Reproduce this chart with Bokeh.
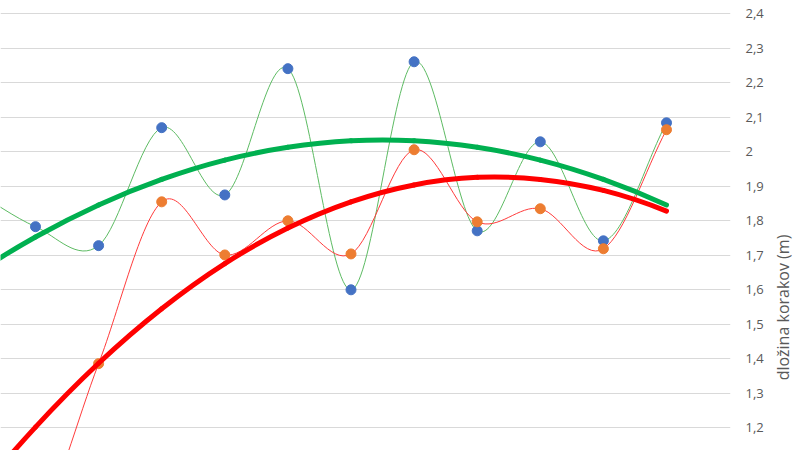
import numpy as np
from bokeh.plotting import figure
from bokeh.layouts import row
from bokeh.models import FixedTicker, CustomJSTickFormatter, Range1d, Label
from bokeh.embed import file_html
from bokeh.resources import INLINE

# measurement index (first points lie partly outside the visible window)
x_idx = [0, 1, 2, 3, 4, 5, 6, 7, 8, 9, 10, 11]
blue_vals = [1.89, 1.783, 1.728, 2.070, 1.875, 2.241, 1.600, 2.261, 1.771, 2.029, 1.742, 2.084]
orange_vals = [0.80, 0.90, 1.386, 1.855, 1.701, 1.800, 1.704, 2.006, 1.797, 1.835, 1.719, 2.064]
# polynomial trend lines, read at each measurement index
green_trend = [1.641, 1.753, 1.846, 1.920, 1.976, 2.013, 2.032, 2.032, 2.013, 1.976, 1.920, 1.846]
red_trend = [0.990, 1.202, 1.387, 1.545, 1.676, 1.779, 1.855, 1.904, 1.926, 1.920, 1.888, 1.828]
y_ticks = [1.2, 1.3, 1.4, 1.5, 1.6, 1.7, 1.8, 1.9, 2.0, 2.1, 2.2, 2.3, 2.4]
y_title = "dložina korakov (m)"


def bezier_segments(xs, ys, end="linear"):
    xs = np.asarray(xs, float)
    ys = np.asarray(ys, float)
    n = len(xs)
    m = np.empty(n)
    m[1:-1] = (ys[2:] - ys[:-2]) / (xs[2:] - xs[:-2])
    if end == "quad":
        m[0] = (-3 * ys[0] + 4 * ys[1] - ys[2]) / 2
        m[-1] = (3 * ys[-1] - 4 * ys[-2] + ys[-3]) / 2
    else:
        m[0] = ys[1] - ys[0]
        m[-1] = ys[-1] - ys[-2]
    dx = xs[1:] - xs[:-1]
    return dict(x0=xs[:-1], y0=ys[:-1], x1=xs[1:], y1=ys[1:],
                cx0=xs[:-1] + dx / 3, cy0=ys[:-1] + m[:-1] * dx / 3,
                cx1=xs[1:] - dx / 3, cy1=ys[1:] - m[1:] * dx / 3)


p = figure(width=768, height=450, output_backend="svg", toolbar_location=None,
           x_range=Range1d(0.4453, 12.0143), y_range=Range1d(1.1342, 2.4386),
           x_axis_location=None, y_axis_location="right",
           min_border_left=0, min_border_top=0, min_border_bottom=0, min_border_right=38)
p.outline_line_color = None
p.background_fill_color = "white"
p.border_fill_color = "white"

ticker = FixedTicker(ticks=y_ticks)
p.yaxis.ticker = ticker
p.ygrid.ticker = ticker
p.xgrid.visible = False
p.ygrid.grid_line_color = "#D9D9D9"
p.ygrid.grid_line_width = 1
p.yaxis.axis_line_color = None
p.yaxis.major_tick_line_color = None
p.yaxis.minor_tick_line_color = None
p.yaxis.major_tick_out = 0
p.yaxis.major_tick_in = 0
p.yaxis.major_label_standoff = 15
p.yaxis.major_label_text_font = "Open Sans"
p.yaxis.major_label_text_font_size = "13px"
p.yaxis.major_label_text_color = "#595959"
p.yaxis.formatter = CustomJSTickFormatter(
    code="return (Math.round(tick*10)/10).toString().replace('.', ',');")

# series 1: blue markers, thin green smoothed line
p.bezier(**bezier_segments(x_idx, blue_vals), line_color="#5DBB63", line_width=1)
p.scatter(x_idx, blue_vals, size=10, fill_color="#4472C4", line_color="#4472C4")

# series 2: orange markers, thin red smoothed line
p.bezier(**bezier_segments(x_idx, orange_vals), line_color="#FF3B3B", line_width=1)
p.scatter(x_idx, orange_vals, size=10, fill_color="#ED7D31", line_color="#ED7D31")

# trend lines
p.bezier(**bezier_segments(x_idx, green_trend, end="quad"), line_color="#00B050",
         line_width=5, line_cap="round")
p.bezier(**bezier_segments(x_idx, red_trend, end="quad"), line_color="#FF0000",
         line_width=5, line_cap="round")

# narrow side panel holding the vertical axis title (reads bottom to top)
side = figure(width=32, height=450, output_backend="svg", toolbar_location=None,
              x_range=Range1d(0, 32), y_range=Range1d(450, 0),
              x_axis_location=None, y_axis_location=None,
              min_border_left=0, min_border_top=0, min_border_bottom=0, min_border_right=0)
side.outline_line_color = None
side.xgrid.visible = False
side.ygrid.visible = False
side.add_layout(Label(x=14, y=307, text=y_title, angle=90, angle_units="deg",
                      text_align="center", text_baseline="middle", text_font="Open Sans",
                      text_font_size="16px", text_color="#595959"))

layout = row(p, side)
open("out.html", "w").write(file_html(layout, INLINE))
